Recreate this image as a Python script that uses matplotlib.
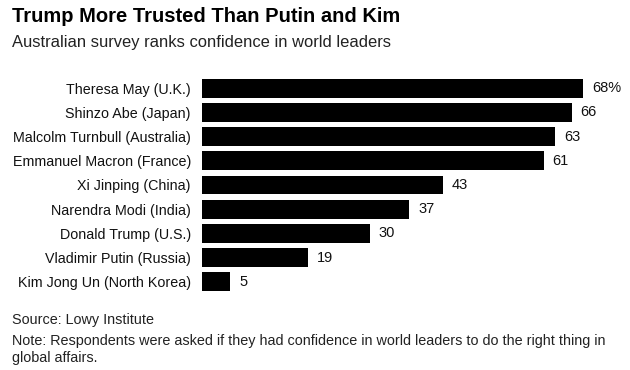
import matplotlib
matplotlib.use("Agg")
import matplotlib.pyplot as plt

leaders = ["Theresa May (U.K.)", "Shinzo Abe (Japan)", "Malcolm Turnbull (Australia)",
           "Emmanuel Macron (France)", "Xi Jinping (China)", "Narendra Modi (India)",
           "Donald Trump (U.S.)", "Vladimir Putin (Russia)", "Kim Jong Un (North Korea)"]
values = [68, 66, 63, 61, 43, 37, 30, 19, 5]
value_labels = ["68%", "66", "63", "61", "43", "37", "30", "19", "5"]

plt.rcParams['font.family'] = ['Liberation Sans', 'DejaVu Sans']

W, H = 630, 370
fig = plt.figure(figsize=(W / 100, H / 100), dpi=100)
ax_left, ax_right = 202, 620
ax_top, ax_bottom = 76, 294
ax = fig.add_axes([ax_left / W, 1 - ax_bottom / H, (ax_right - ax_left) / W, (ax_bottom - ax_top) / H])

ypos = list(range(len(leaders)))
ax.barh(ypos, values, height=0.78, color="black")
ax.set_xlim(0, (ax_right - ax_left) / 5.6)
ax.set_ylim(len(leaders) - 0.5, -0.5)
ax.set_yticks(ypos)
ax.set_yticklabels(leaders, fontsize=10.25, color="#111111")
ax.tick_params(axis="y", length=0, pad=8)
ax.set_xticks([])
for s in ax.spines.values():
    s.set_visible(False)

for y, v, lab in zip(ypos, values, value_labels):
    ax.text(v + 1.6, y, lab, va="center", ha="left", fontsize=10.5, color="#111111")

fig.text(12 / W, 1 - 17 / H, "Trump More Trusted Than Putin and Kim", fontsize=14.5,
         fontweight="bold", va="center", ha="left", color="black")
fig.text(12 / W, 1 - 43 / H, "Australian survey ranks confidence in world leaders", fontsize=11.9,
         va="center", ha="left", color="#222222")
fig.text(12 / W, 1 - 320 / H, "Source: Lowy Institute", fontsize=10.4,
         va="center", ha="left", color="#222222")
fig.text(12 / W, 1 - 341 / H,
         "Note: Respondents were asked if they had confidence in world leaders to do the right thing in",
         fontsize=10.4, va="center", ha="left", color="#222222")
fig.text(12 / W, 1 - 358 / H, "global affairs.",
         fontsize=10.4, va="center", ha="left", color="#222222")

fig.savefig("out.png", dpi=100)
